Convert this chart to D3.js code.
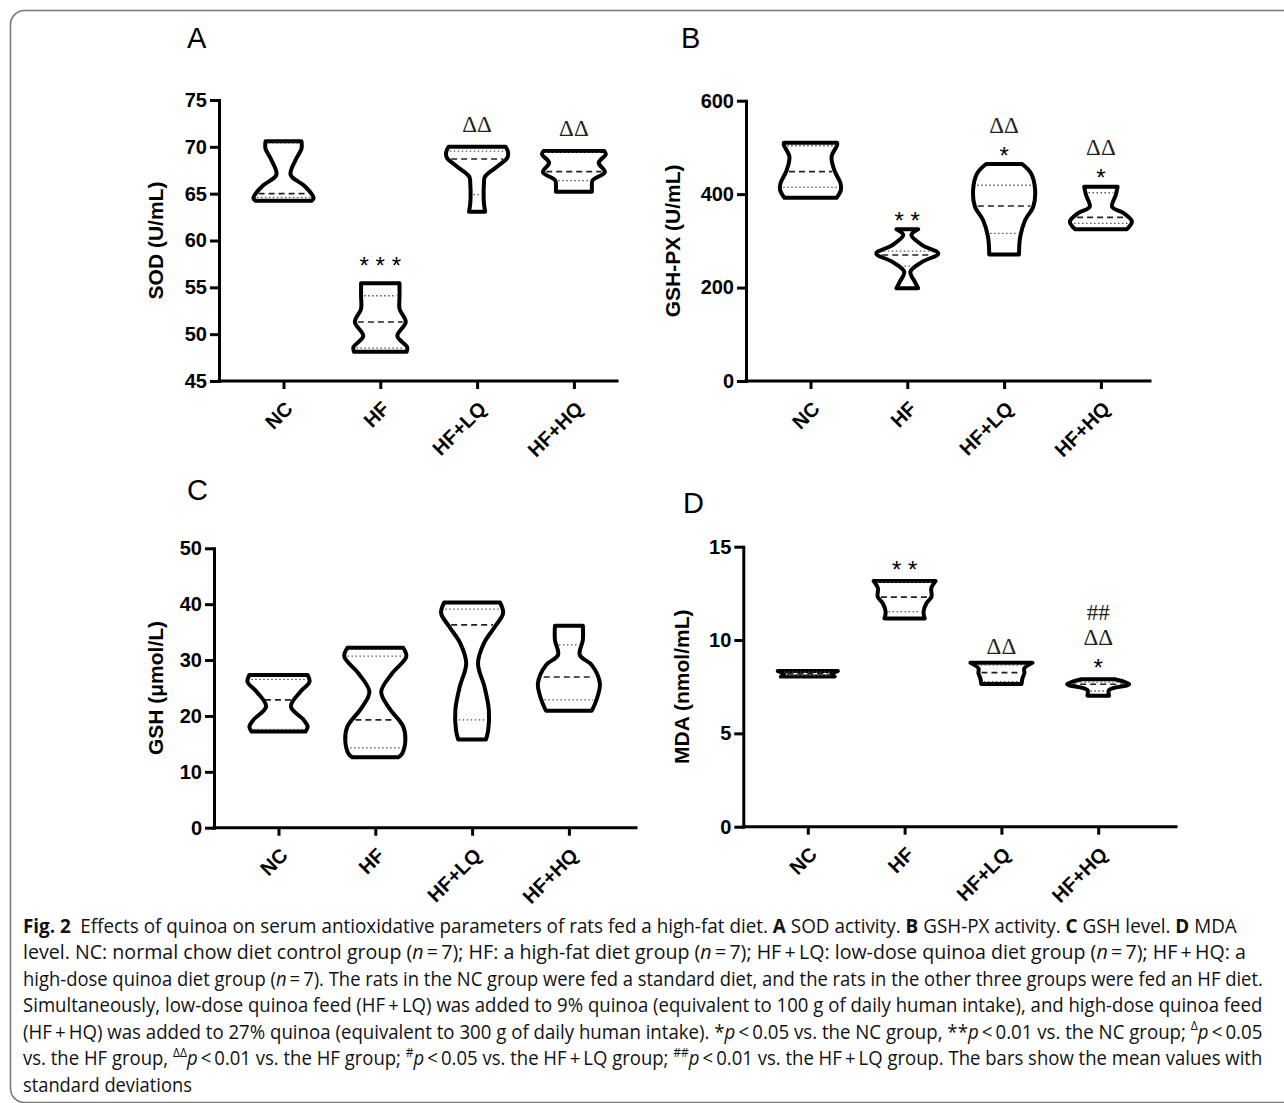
<!DOCTYPE html>
<html>
<head>
<meta charset="utf-8">
<script src="https://cdn.jsdelivr.net/npm/d3@7"></script>
<style>
  body { margin: 0; background: #fff; }
  svg { display: block; }
</style>
</head>
<body>
<svg id="fig" width="1284" height="1103"></svg>
<script>
const groups = ["NC", "HF", "HF+LQ", "HF+HQ"];

// Violin outlines: [value, relative half-width (1 = widest)]
// Stats per group: [lower quartile, median, upper quartile]

// A - SOD (U/mL)
const sodTicks = [45, 50, 55, 60, 65, 70, 75];
const sodShapes = [
  [[64.24, 0.9], [64.5, 0.97], [65.0, 0.9], [65.9, 0.65], [67.0, 0.23], [68.6, 0.39], [69.8, 0.58], [70.6, 0.58]],
  [[48.13, 0.85], [48.6, 0.87], [49.8, 0.55], [51.3, 0.82], [52.7, 0.62], [54.0, 0.62], [55.43, 0.62]],
  [[63.07, 0.26], [64.0, 0.22], [65.0, 0.21], [66.0, 0.22], [66.8, 0.25], [67.9, 0.65], [68.8, 0.97], [69.4, 1.0], [70.0, 0.92]],
  [[65.2, 0.58], [65.6, 0.58], [66.4, 0.6], [67.3, 1.0], [68.3, 0.8], [69.2, 1.03], [69.55, 0.98]]
];
const sodStats = [[64.6, 65.0, 70.4], [48.5, 51.3, 54.1], [64.9, 68.7, 69.55], [66.4, 67.35, 69.4]];
const sodMarks = [[], ["* * *"], ["ΔΔ"], ["ΔΔ"]];

// B - GSH-PX (U/mL)
const gpxTicks = [0, 200, 400, 600];
const gpxShapes = [
  [[392, 0.84], [409, 0.98], [423, 0.97], [451, 0.77], [480, 0.68], [505, 0.86], [510, 0.86]],
  [[198.4, 0.35], [212.5, 0.24], [234, 0.1], [255, 0.48], [273, 1.0], [291, 0.48], [312.5, 0.13], [325, 0.35]],
  [[271, 0.48], [309, 0.52], [344.6, 0.68], [373, 0.94], [409, 1.0], [444.5, 0.87], [464.5, 0.58]],
  [[325, 0.84], [341, 1.0], [359, 0.74], [373, 0.36], [398, 0.48], [416, 0.54]]
];
const gpxStats = [[414.6, 448, 503.6], [246, 269.7, 278], [316, 374.6, 419], [337.5, 350.4, 403]];
const gpxMarks = [[], ["* *"], ["*", "ΔΔ"], ["*", "ΔΔ"]];

// C - GSH (umol/L)
const gshTicks = [0, 10, 20, 30, 40, 50];
const gshShapes = [
  [[17.2, 0.87], [18.1, 0.94], [19.3, 0.81], [21.7, 0.4], [24.3, 0.7], [26.1, 1.0], [27.33, 0.94]],
  [[12.6, 0.74], [13.2, 0.86], [15.7, 0.97], [18.1, 0.9], [21.4, 0.45], [24.3, 0.19], [27.6, 0.54], [30.6, 1.0], [32.2, 0.9]],
  [[15.8, 0.45], [17.5, 0.52], [21.1, 0.54], [25.2, 0.4], [29.4, 0.19], [33.0, 0.38], [36.0, 0.74], [38.4, 1.0], [40.3, 0.9]],
  [[20.95, 0.74], [22.9, 0.89], [25.8, 1.0], [29.1, 0.74], [30.9, 0.35], [33.6, 0.45], [36.15, 0.45]]
];
const gshStats = [[17.6, 22.86, 26.56], [14.3, 19.28, 30.7], [19.3, 36.3, 39.1], [22.86, 26.97, 32.7]];
const gshMarks = [[], [], [], []];

// D - MDA (nmol/mL)
const mdaTicks = [0, 5, 10, 15];
const mdaShapes = [
  [[8.04, 0.87], [8.12, 0.8], [8.2, 0.76], [8.27, 0.85], [8.34, 0.97]],
  [[11.16, 0.65], [11.5, 0.61], [11.96, 0.7], [12.32, 0.87], [12.77, 0.86], [13.16, 1.0]],
  [[7.64, 0.65], [7.95, 0.68], [8.22, 0.74], [8.48, 0.74], [8.78, 1.0]],
  [[7.02, 0.35], [7.32, 0.35], [7.63, 1.0], [7.9, 0.54]]
];
const mdaStats = [[8.1, 8.2, 8.28], [11.52, 12.3, 13.1], [7.77, 8.25, 8.66], [7.27, 7.63, 7.75]];
const mdaMarks = [[], ["* *"], ["ΔΔ"], ["*", "ΔΔ", "##"]];

const sans = "'Liberation Sans', Arial, sans-serif";
const serif = "'Liberation Serif', 'Times New Roman', serif";

const panels = [
  { letter: "A", title: "SOD (U/mL)", domain: [45, 75], ticks: sodTicks, shapes: sodShapes, stats: sodStats, marks: sodMarks,
    box: { x0: 219, yTop: 100, yBot: 381, xEnd: 617, lx: 187, ly: 48, titleX: 163, gap: 23 } },
  { letter: "B", title: "GSH-PX (U/mL)", domain: [0, 600], ticks: gpxTicks, shapes: gpxShapes, stats: gpxStats, marks: gpxMarks,
    box: { x0: 746, yTop: 100.7, yBot: 381, xEnd: 1150, lx: 681, ly: 48, titleX: 680, gap: 14 } },
  { letter: "C", title: "GSH (μmol/L)", domain: [0, 50], ticks: gshTicks, shapes: gshShapes, stats: gshStats, marks: gshMarks,
    box: { x0: 214, yTop: 548.3, yBot: 827.7, xEnd: 636, lx: 187, ly: 500, titleX: 163, gap: 17 } },
  { letter: "D", title: "MDA (nmol/mL)", domain: [0, 15], ticks: mdaTicks, shapes: mdaShapes, stats: mdaStats, marks: mdaMarks,
    box: { x0: 743.3, yTop: 546.7, yBot: 826.7, xEnd: 1176, lx: 683, ly: 513, titleX: 689, gap: 17 } }
];

const svg = d3.select("#fig");

// figure frame
svg.append("rect")
  .attr("x", 10.5).attr("y", 10.5)
  .attr("width", 1320).attr("height", 1092)
  .attr("rx", 14)
  .attr("fill", "none")
  .attr("stroke", "#7a7a7a")
  .attr("stroke-width", 1.6);

function halfAt(shape, v) {
  const s = d3.scaleLinear().domain(shape.map((d) => d[0])).range(shape.map((d) => d[1])).clamp(true);
  return s(v);
}

function drawPanel(p) {
  const b = p.box;
  const g = svg.append("g");
  const y = d3.scaleLinear().domain(p.domain).range([b.yBot, b.yTop]);
  const x = d3.scalePoint().domain(groups).range([b.x0 + 64.5, b.x0 + 64.5 + 3 * 96.8]);
  const w = d3.scaleLinear().domain([0, 1]).range([0, 31]);

  // panel letter
  g.append("text")
    .attr("x", b.lx).attr("y", b.ly)
    .attr("font-family", sans).attr("font-size", 29)
    .text(p.letter);

  // y axis
  const ya = g.append("g")
    .attr("transform", `translate(${b.x0},0)`)
    .call(d3.axisLeft(y).tickValues(p.ticks).tickSize(9).tickSizeOuter(0).tickPadding(3));
  ya.attr("font-family", sans).attr("font-size", 20).attr("font-weight", "bold");
  ya.select(".domain").attr("stroke-width", 3).attr("stroke-linecap", "square");
  ya.selectAll(".tick line").attr("stroke-width", 3);

  g.append("text")
    .attr("transform", `translate(${b.titleX},${(b.yTop + b.yBot) / 2}) rotate(-90)`)
    .attr("text-anchor", "middle")
    .attr("font-family", sans).attr("font-size", 21).attr("font-weight", "bold")
    .text(p.title);

  // x axis
  const xa = g.append("g")
    .attr("transform", `translate(0,${b.yBot})`)
    .call(d3.axisBottom(x).tickSize(8).tickSizeOuter(0));
  xa.attr("font-family", sans).attr("font-size", 20).attr("font-weight", "bold");
  xa.select(".domain").remove();
  xa.append("line")
    .attr("x1", b.x0).attr("x2", b.xEnd)
    .attr("stroke", "#000").attr("stroke-width", 3).attr("stroke-linecap", "square");
  xa.selectAll(".tick line").attr("stroke-width", 3);
  xa.selectAll(".tick text")
    .attr("y", 0).attr("dy", "0.35em")
    .attr("text-anchor", "end")
    .attr("transform", "translate(5,24) rotate(-45)");

  // violins
  p.shapes.forEach((shape, i) => {
    const cx = x(groups[i]);
    const area = d3.area()
      .curve(d3.curveCatmullRom)
      .y((d) => y(d[0]))
      .x0((d) => cx - w(d[1]))
      .x1((d) => cx + w(d[1]));

    g.append("path")
      .datum(shape)
      .attr("d", area)
      .attr("fill", "#fff")
      .attr("stroke", "#000")
      .attr("stroke-width", 4)
      .attr("stroke-linejoin", "round");

    const [q1, med, q3] = p.stats[i];
    [[q1, false], [q3, false], [med, true]].forEach(([v, isMed]) => {
      const hw = Math.max(w(halfAt(shape, v)) - 3, 2);
      g.append("line")
        .attr("x1", cx - hw).attr("x2", cx + hw)
        .attr("y1", y(v)).attr("y2", y(v))
        .attr("stroke", isMed ? "#222" : "#555")
        .attr("stroke-width", isMed ? 1.7 : 1.3)
        .attr("stroke-dasharray", isMed ? "6,4" : "1.5,2.5");
    });
  });

  // significance marks, stacked above each violin
  p.marks.forEach((list, i) => {
    const cx = x(groups[i]);
    const top = y(d3.max(p.shapes[i], (d) => d[0]));
    list.forEach((m, j) => {
      const c = top - b.gap - 25 * j;
      const star = m.includes("*");
      g.append("text")
        .attr("x", cx)
        .attr("y", c + (star ? 0.57 * 24 : 0.34 * 23))
        .attr("text-anchor", "middle")
        .attr("font-family", star ? sans : serif)
        .attr("font-size", star ? 24 : 23)
        .attr("fill", star ? "#000" : "#222")
        .text(m);
    });
  });
}

panels.forEach(drawPanel);

// Caption
const capFont = "'Open Sans', 'Noto Sans', sans-serif";
const th = "\u2009";
const captionLines = [
  [["Fig. 2", "b"], ["\u2002Effects of quinoa on serum antioxidative parameters of rats fed a high-fat diet. "], ["A", "b"], [" SOD activity. "], ["B", "b"], [" GSH-PX activity. "], ["C", "b"], [" GSH level. "], ["D", "b"], [" MDA"]],
  [["level. NC: normal chow diet control group ("], ["n", "i"], [`${th}=${th}7); HF: a high-fat diet group (`], ["n", "i"], [`${th}=${th}7); HF${th}+${th}LQ: low-dose quinoa diet group (`], ["n", "i"], [`${th}=${th}7); HF${th}+${th}HQ: a`]],
  [["high-dose quinoa diet group ("], ["n", "i"], [`${th}=${th}7). The rats in the NC group were fed a standard diet, and the rats in the other three groups were fed an HF diet.`]],
  [[`Simultaneously, low-dose quinoa feed (HF${th}+${th}LQ) was added to 9% quinoa (equivalent to 100 g of daily human intake), and high-dose quinoa feed`]],
  [[`(HF${th}+${th}HQ) was added to 27% quinoa (equivalent to 300 g of daily human intake). *`], ["p", "i"], [`${th}<${th}0.05 vs. the NC group, **`], ["p", "i"], [`${th}<${th}0.01 vs. the NC group; `], ["Δ", "s"], ["p", "i"], [`${th}<${th}0.05`]],
  [["vs. the HF group, "], ["ΔΔ", "s"], ["p", "i"], [`${th}<${th}0.01 vs. the HF group; `], ["#", "s"], ["p", "i"], [`${th}<${th}0.05 vs. the HF${th}+${th}LQ group; `], ["##", "s"], ["p", "i"], [`${th}<${th}0.01 vs. the HF${th}+${th}LQ group. The bars show the mean values with`]],
  [["standard deviations"]]
];
const lineEnds = [1237, 1247, 1263, 1263, 1263, 1263, 192];

// each line is set at its natural width, then squeezed horizontally to the justified width
captionLines.forEach((segs, i) => {
  const t = svg.append("text")
    .attr("x", 0).attr("y", 0)
    .attr("font-family", capFont)
    .attr("font-size", 20)
    .attr("fill", "#111");
  segs.forEach(([s, st]) => {
    const ts = t.append("tspan").text(s);
    if (st === "b") ts.attr("font-weight", "bold");
    if (st === "i") ts.attr("font-style", "italic");
    if (st === "s") ts.attr("baseline-shift", "super").attr("font-size", 13);
  });
  const natural = t.node().getComputedTextLength();
  const k = (lineEnds[i] - 23) / natural;
  t.attr("transform", `translate(23,${932.5 + 26.5 * i}) scale(${k},1)`);
});
</script>
</body>
</html>
